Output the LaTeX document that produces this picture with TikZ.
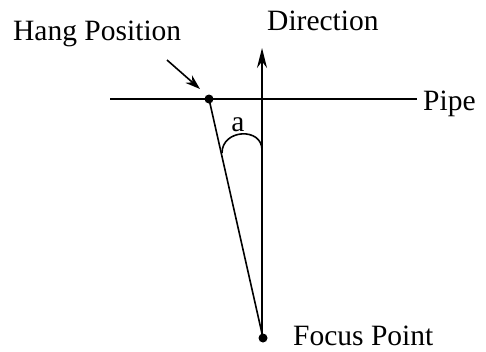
\documentclass[tikz,border=0pt]{standalone}
\usepackage{fontspec}
\setmainfont{Liberation Serif}
\usetikzlibrary{arrows.meta}
\begin{document}
\begin{tikzpicture}[x=1pt,y=-1pt,
  line/.style={line width=1.6pt},
  lbl/.style={inner sep=0pt,font=\fontsize{29.5}{32}\selectfont},
  dotnode/.style={circle,fill=black,inner sep=0pt,minimum size=9pt}]
\useasboundingbox (0,0) rectangle (486,351);
\node[dotnode] (hang) at (209,99) {};
\node[dotnode] (focus) at (263,338) {};
\coordinate (pl) at (110,99);
\coordinate (pr) at (417,99);
\coordinate (top) at (262,48);
\coordinate (bot) at (262,338);
\draw[line] (pl) -- (pr);
\draw[line,-{Stealth[length=20pt,width=10pt]}] (bot) -- (top);
\draw[line] (hang.center) -- (focus.center);
\coordinate (a1) at (222,153);
\coordinate (a2) at (262,150);
\draw[line] (a1) .. controls (222,129) and (262,127) .. (a2);
\node[lbl,anchor=base west] (dir) at (267,30) {Direction};
\node[lbl,anchor=base west] (hp) at (13,40) {Hang Position};
\node[lbl,anchor=base west] (pipe) at (423,110) {Pipe};
\node[lbl,anchor=base west] (fp) at (293,345) {Focus Point};
\node[lbl,anchor=base] (a) at (238,131) {a};
\coordinate (hs) at (167,60);
\coordinate (he) at (200,89);
\draw[line,-{Stealth[length=15pt,width=10pt]}] (hs) -- (he);
\end{tikzpicture}
\end{document}
